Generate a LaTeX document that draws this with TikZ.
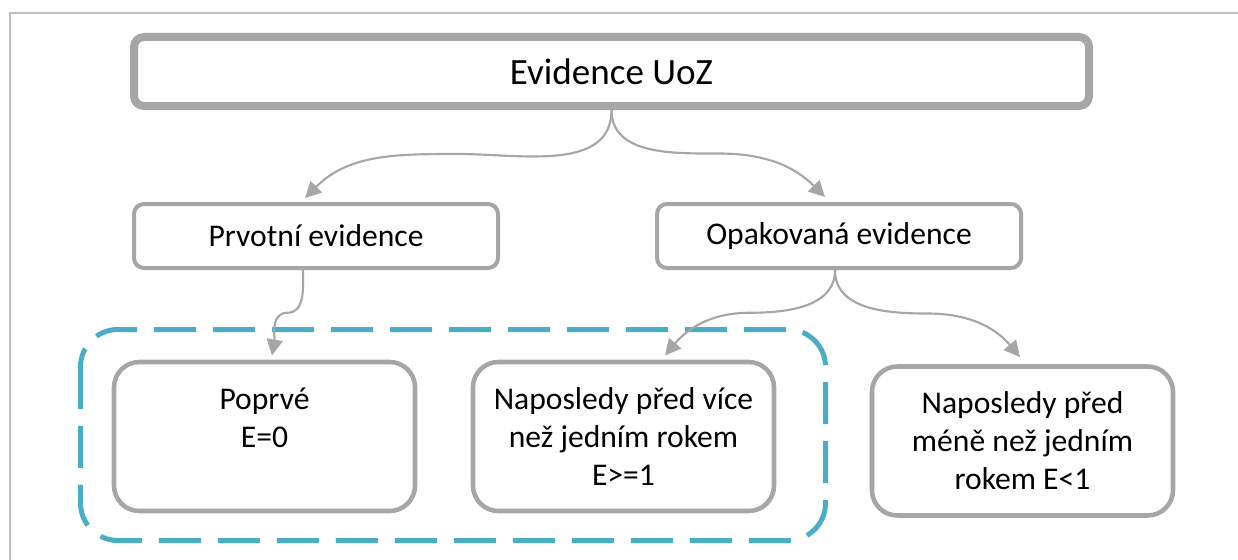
\documentclass[tikz,border=0pt]{standalone}
\usepackage{fontspec}
\setmainfont{Carlito}
\usetikzlibrary{arrows.meta,calc}
\definecolor{boxgray}{HTML}{A6A6A6}
\definecolor{groupblue}{HTML}{4BACC6}
\definecolor{framegray}{HTML}{BFBFBF}
\begin{document}
\begin{tikzpicture}[x=0.75pt,y=-0.75pt,
  rootbox/.style={draw=boxgray, line width=6pt, rounded corners=7.5pt, fill=white,
    minimum width=716.25pt, minimum height=51.75pt, inner sep=0pt,
    font=\fontsize{27.8}{33}\selectfont},
  midbox/.style={draw=boxgray, line width=3pt, rounded corners=7.5pt, fill=white,
    minimum width=273pt, minimum height=48pt, inner sep=0pt,
    font=\fontsize{23.7}{28.5}\selectfont},
  leafbox/.style={draw=boxgray, line width=3.4pt, rounded corners=19pt, fill=white,
    minimum width=225.75pt, minimum height=111.75pt, inner sep=0pt, align=center,
    font=\fontsize{23.7}{28.5}\selectfont},
  conn/.style={draw=boxgray, line width=1.6pt, -{Triangle[length=12pt,width=12pt]}},
  groupframe/.style={draw=groupblue, line width=3.75pt, rounded corners=28pt,
    dash pattern=on 31.5pt off 12.75pt},
]
\useasboundingbox (0,0) rectangle (1238,560);

% page frame (top and left rules)
\draw[framegray, line width=1.5pt] (10,560) -- (10,13) -- (1238,13);

% group of the two "long ago / first time" cases
\draw[groupframe] (80.5,329.5) rectangle (825.5,540.5);

% boxes
\node[rootbox] (root) at (611.5,71.5) {Evidence UoZ};
\node[midbox] (first) at (316,236) {Prvotní evidence};
\node[midbox] (repeat) at (839,236) {Opakovaná evidence};
\node[leafbox] (never) at (264.5,436.5) {Poprvé\\E=0\\\mbox{}};
\node[leafbox] (older) at (623.5,436.5) {Naposledy před více\\než jedním rokem\\E>=1};
\node[leafbox] (recent) at (1022.5,441) {Naposledy před\\méně než jedním\\rokem E<1};

% connector ends
\coordinate (first-in) at ([xshift=-8.25pt,yshift=3pt]first.north);
\coordinate (repeat-in) at ([xshift=-10.5pt,yshift=3.75pt]repeat.north);
\coordinate (first-out) at ([xshift=-9.75pt]first.south);
\coordinate (repeat-out) at ([xshift=-3pt]repeat.south);
\coordinate (never-in) at ([xshift=5.6pt,yshift=3.2pt]never.north);
\coordinate (older-in) at ([xshift=31.1pt,yshift=3.2pt]older.north);
\coordinate (recent-in) at ([xshift=-1.9pt,yshift=5.4pt]recent.north);

% curved connectors
\draw[conn] (root.south) to[out=-90,in=0] ($(root.south)!.5!(first-in)$)
  to[out=180,in=45] (first-in);
\draw[conn] (root.south) to[out=-90,in=180] ($(root.south)!.5!(repeat-in)$)
  to[out=0,in=135] (repeat-in);
\draw[conn] (first-out) to[out=-90,in=0] ($(first-out)!.5!(never-in)$)
  to[out=180,in=80] (never-in);
\draw[conn] (repeat-out) to[out=-90,in=0] ($(repeat-out)!.5!(older-in)$)
  to[out=180,in=50] (older-in);
\draw[conn] (repeat-out) to[out=-90,in=180] ($(repeat-out)!.5!(recent-in)$)
  to[out=0,in=130] (recent-in);
\end{tikzpicture}
\end{document}
